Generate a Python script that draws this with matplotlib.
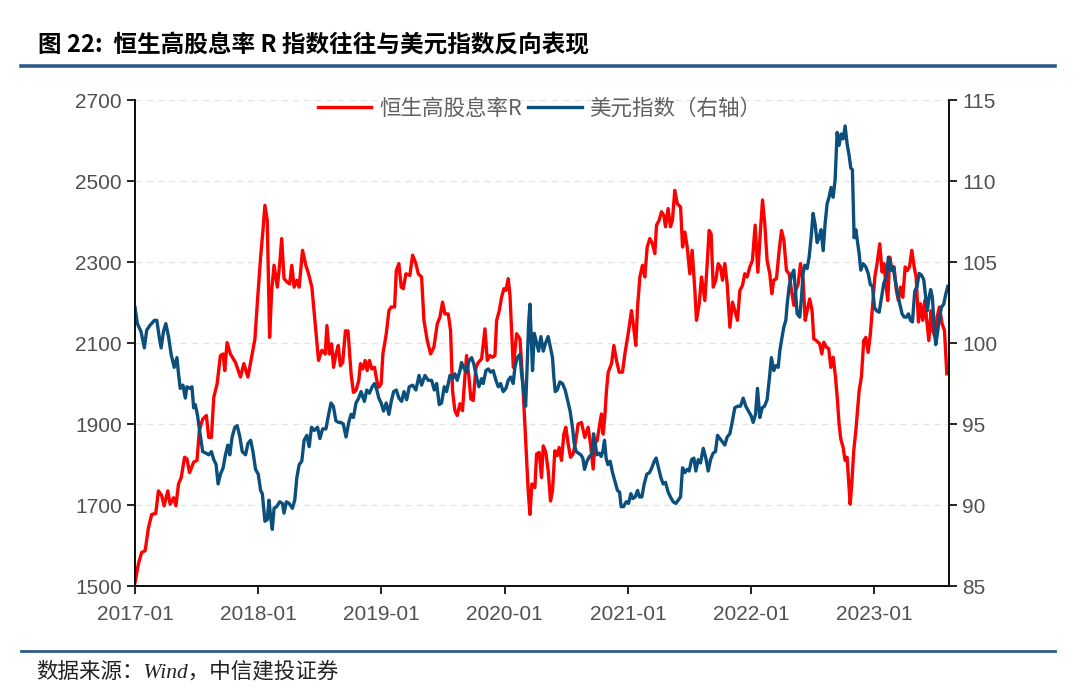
import numpy as np
import pandas as pd
import matplotlib
matplotlib.use('Agg')
import matplotlib.pyplot as plt
import matplotlib.dates as mdates
from matplotlib.lines import Line2D

plt.rcParams['font.family'] = ['Liberation Sans', 'Noto Sans CJK SC', 'DejaVu Sans']
plt.rcParams['axes.unicode_minus'] = False

# 恒生高股息率R 指数（左轴），时间以小数年表示
hsy_year = [
    2017.000, 2017.027, 2017.054, 2017.082, 2017.109, 2017.136, 2017.168, 2017.190, 2017.217, 2017.236,
    2017.266, 2017.285, 2017.313, 2017.332, 2017.353, 2017.375, 2017.402, 2017.421, 2017.443, 2017.476,
    2017.503, 2017.522, 2017.549, 2017.579, 2017.598, 2017.620, 2017.639, 2017.666, 2017.693, 2017.715,
    2017.728, 2017.747, 2017.774, 2017.815, 2017.856, 2017.883, 2017.916, 2017.946, 2017.973, 2017.992,
    2018.019, 2018.038, 2018.054, 2018.073, 2018.092, 2018.109, 2018.128, 2018.155, 2018.174, 2018.190,
    2018.209, 2018.236, 2018.255, 2018.272, 2018.291, 2018.313, 2018.332, 2018.359, 2018.386, 2018.408,
    2018.435, 2018.462, 2018.489, 2018.516, 2018.543, 2018.557, 2018.576, 2018.595, 2018.611, 2018.630,
    2018.649, 2018.666, 2018.685, 2018.707, 2018.728, 2018.753, 2018.772, 2018.793, 2018.815, 2018.829,
    2018.848, 2018.867, 2018.883, 2018.902, 2018.921, 2018.943, 2018.962, 2018.978, 2018.997, 2019.011,
    2019.038, 2019.060, 2019.079, 2019.106, 2019.120, 2019.141, 2019.160, 2019.176, 2019.198, 2019.230,
    2019.252, 2019.279, 2019.298, 2019.325, 2019.344, 2019.371, 2019.398, 2019.425, 2019.452, 2019.474,
    2019.495, 2019.514, 2019.541, 2019.560, 2019.576, 2019.595, 2019.614, 2019.636, 2019.657, 2019.676,
    2019.690, 2019.709, 2019.725, 2019.744, 2019.766, 2019.785, 2019.812, 2019.839, 2019.858, 2019.880,
    2019.901, 2019.920, 2019.934, 2019.955, 2019.974, 2019.993, 2020.009, 2020.028, 2020.042, 2020.069,
    2020.096, 2020.123, 2020.145, 2020.172, 2020.190, 2020.204, 2020.220, 2020.244, 2020.258, 2020.279,
    2020.298, 2020.312, 2020.333, 2020.352, 2020.371, 2020.387, 2020.406, 2020.425, 2020.441, 2020.460,
    2020.479, 2020.495, 2020.514, 2020.533, 2020.554, 2020.576, 2020.595, 2020.622, 2020.649, 2020.676,
    2020.695, 2020.717, 2020.730, 2020.749, 2020.771, 2020.784, 2020.798, 2020.811, 2020.825, 2020.839,
    2020.866, 2020.885, 2020.906, 2020.928, 2020.955, 2020.974, 2021.001, 2021.028, 2021.047, 2021.063,
    2021.077, 2021.096, 2021.117, 2021.136, 2021.155, 2021.177, 2021.198, 2021.217, 2021.231, 2021.252,
    2021.271, 2021.290, 2021.304, 2021.325, 2021.344, 2021.360, 2021.379, 2021.399, 2021.426, 2021.442,
    2021.461, 2021.480, 2021.501, 2021.520, 2021.542, 2021.555, 2021.577, 2021.596, 2021.623, 2021.642,
    2021.658, 2021.674, 2021.691, 2021.712, 2021.731, 2021.750, 2021.766, 2021.785, 2021.804, 2021.826,
    2021.847, 2021.866, 2021.888, 2021.907, 2021.928, 2021.947, 2021.966, 2021.988, 2022.009, 2022.031,
    2022.053, 2022.074, 2022.091, 2022.109, 2022.128, 2022.150, 2022.166, 2022.182, 2022.204, 2022.226,
    2022.245, 2022.264, 2022.285, 2022.307, 2022.326, 2022.345, 2022.361, 2022.380, 2022.399, 2022.420,
    2022.437, 2022.453, 2022.474, 2022.493, 2022.507, 2022.528, 2022.555, 2022.572, 2022.588, 2022.609,
    2022.628, 2022.645, 2022.664, 2022.683, 2022.699, 2022.712, 2022.726, 2022.745, 2022.761, 2022.777,
    2022.791, 2022.802, 2022.815, 2022.831, 2022.848, 2022.861, 2022.875, 2022.893, 2022.912, 2022.929,
    2022.948, 2022.966, 2022.983, 2023.002, 2023.020, 2023.042, 2023.061, 2023.077, 2023.091, 2023.107,
    2023.123, 2023.142, 2023.158, 2023.177, 2023.193, 2023.210, 2023.229, 2023.248, 2023.266, 2023.283,
    2023.302, 2023.321, 2023.337, 2023.356, 2023.372, 2023.391, 2023.407, 2023.423, 2023.440, 2023.459,
    2023.472, 2023.491, 2023.507, 2023.526, 2023.548, 2023.567, 2023.586,
]
hsy_val = [
    1508, 1554, 1583, 1587, 1644, 1677, 1679, 1735, 1723, 1698,
    1735, 1702, 1718, 1698, 1752, 1768, 1818, 1814, 1780, 1806,
    1810, 1884, 1912, 1921, 1867, 1867, 1966, 1999, 2069, 2073,
    2032, 2101, 2073, 2052, 2016, 2049, 2016, 2065, 2110, 2197,
    2312, 2378, 2440, 2403, 2114, 2230, 2292, 2238, 2296, 2358,
    2259, 2250, 2246, 2292, 2238, 2255, 2238, 2329, 2292, 2271,
    2238, 2147, 2057, 2082, 2073, 2143, 2073, 2098, 2040, 2073,
    2094, 2044, 2052, 2130, 2130, 2024, 1978, 1983, 2007, 2049,
    2036, 2057, 2032, 2057, 2036, 2040, 2007, 1991, 1999, 2073,
    2122, 2180, 2189, 2189, 2279, 2296, 2238, 2234, 2271, 2267,
    2317, 2296, 2271, 2263, 2156, 2106, 2073, 2090, 2147, 2164,
    2201, 2172, 2172, 2131, 1983, 1933, 1921, 1950, 1933, 2016,
    2069, 2016, 1962, 1958, 2040, 2052, 2061, 2135, 2057, 2069,
    2065, 2069, 2156, 2180, 2213, 2234, 2230, 2259, 2218, 2040,
    2123, 2110, 2007, 1842, 1735, 1677, 1752, 1743, 1826, 1830,
    1768, 1846, 1830, 1785, 1710, 1735, 1834, 1822, 1842, 1810,
    1875, 1892, 1851, 1818, 1826, 1859, 1900, 1904, 1867, 1892,
    1851, 1789, 1851, 1859, 1900, 1925, 1875, 1917, 1983, 2028,
    2049, 2094, 2057, 2028, 2028, 2073, 2123, 2180, 2135, 2094,
    2189, 2263, 2292, 2263, 2337, 2358, 2345, 2321, 2391, 2403,
    2424, 2415, 2387, 2432, 2387, 2403, 2477, 2444, 2436, 2337,
    2374, 2337, 2271, 2329, 2230, 2156, 2197, 2263, 2205, 2296,
    2378, 2370, 2238, 2255, 2296, 2288, 2255, 2296, 2246, 2139,
    2201, 2180, 2156, 2230, 2242, 2271, 2263, 2288, 2304, 2391,
    2275, 2378, 2453, 2395, 2304, 2271, 2222, 2255, 2259, 2329,
    2378, 2354, 2279, 2271, 2230, 2193, 2230, 2246, 2296, 2255,
    2156, 2180, 2209, 2180, 2110, 2106, 2098, 2073, 2102, 2090,
    2086, 2040, 2065, 2016, 1958, 1900, 1863, 1842, 1810, 1818,
    1752, 1702, 1752, 1834, 1884, 1933, 1983, 2016, 2106, 2114,
    2077, 2123, 2189, 2263, 2296, 2345, 2275, 2296, 2246, 2205,
    2312, 2279, 2288, 2230, 2205, 2238, 2213, 2288, 2279, 2288,
    2329, 2288, 2263, 2152, 2197, 2156, 2205, 2156, 2106, 2180,
    2131, 2114, 2164, 2189, 2147, 2131, 2024,
]

# 美元指数（右轴）
usd_year = [
    2017.000, 2017.019, 2017.049, 2017.076, 2017.095, 2017.122, 2017.158, 2017.177, 2017.196, 2017.212,
    2017.231, 2017.250, 2017.272, 2017.293, 2017.318, 2017.340, 2017.353, 2017.367, 2017.389, 2017.408,
    2017.421, 2017.443, 2017.462, 2017.476, 2017.489, 2017.508, 2017.524, 2017.549, 2017.576, 2017.598,
    2017.620, 2017.639, 2017.658, 2017.674, 2017.693, 2017.715, 2017.734, 2017.753, 2017.769, 2017.788,
    2017.810, 2017.829, 2017.851, 2017.870, 2017.897, 2017.916, 2017.938, 2017.957, 2017.978, 2018.000,
    2018.019, 2018.033, 2018.054, 2018.073, 2018.087, 2018.101, 2018.114, 2018.128, 2018.149, 2018.174,
    2018.196, 2018.209, 2018.228, 2018.250, 2018.277, 2018.296, 2018.313, 2018.332, 2018.353, 2018.372,
    2018.394, 2018.413, 2018.432, 2018.454, 2018.481, 2018.500, 2018.522, 2018.549, 2018.571, 2018.590,
    2018.609, 2018.630, 2018.652, 2018.671, 2018.690, 2018.712, 2018.734, 2018.753, 2018.772, 2018.793,
    2018.815, 2018.834, 2018.861, 2018.880, 2018.902, 2018.924, 2018.943, 2018.962, 2018.978, 2018.997,
    2019.016, 2019.038, 2019.060, 2019.079, 2019.098, 2019.120, 2019.141, 2019.163, 2019.182, 2019.204,
    2019.225, 2019.252, 2019.279, 2019.304, 2019.325, 2019.352, 2019.379, 2019.406, 2019.428, 2019.447,
    2019.468, 2019.487, 2019.509, 2019.528, 2019.555, 2019.576, 2019.595, 2019.614, 2019.636, 2019.649,
    2019.671, 2019.690, 2019.709, 2019.731, 2019.749, 2019.771, 2019.790, 2019.812, 2019.825, 2019.847,
    2019.866, 2019.885, 2019.906, 2019.928, 2019.947, 2019.966, 2019.987, 2020.009, 2020.028, 2020.047,
    2020.068, 2020.082, 2020.101, 2020.123, 2020.136, 2020.155, 2020.169, 2020.182, 2020.193, 2020.204,
    2020.215, 2020.225, 2020.239, 2020.258, 2020.274, 2020.293, 2020.312, 2020.331, 2020.352, 2020.371,
    2020.387, 2020.398, 2020.409, 2020.425, 2020.447, 2020.468, 2020.490, 2020.512, 2020.530, 2020.549,
    2020.563, 2020.579, 2020.598, 2020.617, 2020.633, 2020.647, 2020.666, 2020.687, 2020.706, 2020.720,
    2020.733, 2020.747, 2020.766, 2020.782, 2020.795, 2020.809, 2020.822, 2020.836, 2020.855, 2020.874,
    2020.896, 2020.914, 2020.931, 2020.944, 2020.963, 2020.985, 2021.004, 2021.023, 2021.039, 2021.058,
    2021.077, 2021.093, 2021.112, 2021.131, 2021.152, 2021.174, 2021.193, 2021.212, 2021.228, 2021.247,
    2021.266, 2021.285, 2021.304, 2021.325, 2021.344, 2021.366, 2021.388, 2021.407, 2021.426, 2021.442,
    2021.461, 2021.480, 2021.496, 2021.515, 2021.534, 2021.550, 2021.569, 2021.588, 2021.610, 2021.631,
    2021.650, 2021.669, 2021.690, 2021.709, 2021.726, 2021.745, 2021.766, 2021.785, 2021.804, 2021.826,
    2021.847, 2021.866, 2021.888, 2021.912, 2021.934, 2021.955, 2021.977, 2021.999, 2022.015, 2022.034,
    2022.050, 2022.069, 2022.088, 2022.107, 2022.128, 2022.145, 2022.163, 2022.182, 2022.199, 2022.218,
    2022.231, 2022.248, 2022.264, 2022.280, 2022.291, 2022.307, 2022.326, 2022.345, 2022.358, 2022.372,
    2022.393, 2022.407, 2022.420, 2022.434, 2022.453, 2022.469, 2022.485, 2022.501, 2022.518, 2022.534,
    2022.550, 2022.566, 2022.583, 2022.599, 2022.615, 2022.631, 2022.647, 2022.664, 2022.680, 2022.696,
    2022.712, 2022.728, 2022.745, 2022.761, 2022.777, 2022.793, 2022.807, 2022.820, 2022.834, 2022.848,
    2022.861, 2022.875, 2022.888, 2022.907, 2022.929, 2022.948, 2022.966, 2022.983, 2022.999, 2023.015,
    2023.037, 2023.056, 2023.075, 2023.096, 2023.112, 2023.131, 2023.150, 2023.169, 2023.188, 2023.205,
    2023.223, 2023.240, 2023.258, 2023.275, 2023.291, 2023.307, 2023.326, 2023.345, 2023.361, 2023.380,
    2023.399, 2023.415, 2023.428, 2023.442, 2023.455, 2023.469, 2023.482, 2023.496, 2023.510, 2023.523,
    2023.542, 2023.561, 2023.577, 2023.594,
]
usd_val = [
    102.2, 101.2, 100.7, 99.7, 100.8, 101.1, 101.4, 101.4, 100.4, 99.7,
    100.7, 101.2, 100.4, 99.3, 98.5, 99.1, 98.1, 97.2, 97.4, 96.6,
    97.3, 97.2, 97.3, 96.0, 96.2, 95.5, 94.6, 93.3, 93.2, 93.1,
    93.3, 92.8, 92.5, 91.3, 91.9, 92.3, 93.1, 93.7, 93.1, 94.2,
    94.8, 94.9, 94.2, 93.3, 93.1, 93.8, 94.0, 93.3, 92.2, 91.9,
    90.9, 90.7, 89.0, 89.1, 90.3, 89.2, 88.5, 89.8, 89.9, 90.2,
    90.1, 89.5, 90.2, 90.1, 89.8, 90.3, 91.7, 92.5, 92.7, 94.0,
    94.3, 93.6, 94.8, 94.6, 94.8, 94.1, 94.7, 94.7, 95.6, 96.3,
    96.1, 95.2, 95.1, 95.1, 95.0, 94.2, 95.1, 95.6, 95.4, 96.3,
    96.6, 97.0, 96.4, 97.1, 96.9, 97.3, 97.5, 97.1, 96.6, 96.3,
    95.8, 96.3, 95.6, 96.4, 97.0, 97.1, 96.6, 96.4, 97.0, 96.5,
    97.3, 97.4, 97.1, 98.0, 97.4, 98.0, 97.7, 97.7, 97.1, 97.5,
    96.2, 96.3, 97.3, 97.0, 98.0, 97.8, 98.1, 97.7, 98.3, 98.8,
    98.4, 98.2, 98.9, 99.1, 98.7, 97.9, 97.3, 97.8, 97.5, 98.3,
    98.4, 98.2, 98.3, 97.7, 97.3, 97.5, 97.0, 97.2, 97.7, 97.9,
    97.5, 98.5, 99.1, 99.3, 98.1, 96.9, 96.1, 98.7, 101.2, 102.4,
    100.2, 98.3, 100.6, 100.0, 99.5, 100.4, 99.5, 100.0, 100.4, 99.7,
    99.1, 97.9, 97.0, 97.1, 97.6, 97.5, 97.1, 96.4, 95.8, 94.8,
    93.8, 93.3, 93.2, 93.1, 92.9, 92.2, 92.7, 93.0, 93.1, 94.4,
    93.8, 93.1, 93.2, 93.0, 93.3, 94.0, 92.9, 92.5, 92.7, 92.0,
    91.4, 90.9, 90.8, 89.9, 89.9, 90.2, 90.1, 90.7, 90.4, 90.5,
    90.9, 90.5, 90.5, 91.3, 91.9, 92.0, 92.3, 92.7, 92.9, 92.3,
    91.7, 91.3, 91.4, 90.8, 90.5, 90.2, 90.1, 90.3, 90.5, 92.3,
    92.0, 92.2, 92.1, 92.8, 92.9, 92.1, 92.8, 92.6, 93.5, 92.9,
    92.1, 92.8, 93.2, 93.3, 94.3, 94.1, 93.9, 93.7, 94.2, 94.4,
    95.2, 96.0, 96.1, 96.1, 96.6, 96.1, 95.8, 95.5, 95.1, 95.6,
    97.2, 95.4, 96.0, 96.1, 96.5, 97.7, 99.1, 98.3, 98.6, 98.5,
    99.5, 100.3, 101.0, 101.4, 102.4, 103.5, 104.2, 104.5, 103.2, 101.8,
    101.6, 102.8, 104.3, 104.8, 104.6, 105.3, 106.5, 108.0, 107.3, 106.2,
    106.5, 107.0, 105.7, 107.4, 108.6, 109.0, 109.6, 109.0, 110.1, 113.0,
    112.2, 112.9, 112.6, 113.4, 112.3, 111.6, 110.8, 110.7, 106.5, 107.0,
    106.3, 105.5, 104.5, 104.9, 104.7, 104.3, 103.6, 103.5, 102.2, 102.0,
    101.9, 102.8, 103.7, 104.1, 105.3, 104.5, 104.7, 103.8, 103.0, 102.4,
    101.8, 101.6, 101.6, 101.8, 101.4, 101.3, 103.2, 103.5, 104.3, 104.2,
    103.9, 102.8, 102.0, 102.8, 103.3, 102.8, 101.2, 99.9, 100.6, 101.4,
    102.2, 102.4, 103.0, 103.5,
]

left_ticks = [1500, 1700, 1900, 2100, 2300, 2500, 2700]
right_ticks = [85, 90, 95, 100, 105, 110, 115]
x_ticks = ['2017-01', '2018-01', '2019-01', '2020-01', '2021-01', '2022-01', '2023-01']


def to_dates(years):
    years = np.asarray(years, dtype=float)
    return pd.Timestamp('2017-01-01') + pd.to_timedelta((years - 2017) * 365.25, unit='D')


RED = '#ff0000'
BLUE = '#0b4f7c'
NAVY = '#2e5a88'
GREY = '#505050'
CJK = ['Noto Sans CJK SC', 'DejaVu Sans']

fig = plt.figure(figsize=(10.8, 6.97), dpi=100)
ax = fig.add_axes([0.125, 0.1592, 0.7537, 0.6973])
ax2 = ax.twinx()

ax.plot(to_dates(hsy_year), hsy_val, color=RED, lw=2.4, label='恒生高股息率R')
ax2.plot(to_dates(usd_year), usd_val, color=BLUE, lw=2.4, label='美元指数（右轴）')

ax.set_ylim(1500, 2700)
ax.set_yticks(left_ticks)
ax2.set_ylim(85, 115)
ax2.set_yticks(right_ticks)
ax.set_xlim(pd.Timestamp('2017-01-01'), pd.Timestamp('2023-08-10'))
ax.set_xticks(pd.to_datetime([t + '-01' for t in x_ticks]))
ax.xaxis.set_major_formatter(mdates.DateFormatter('%Y-%m'))

ax.grid(axis='y', color='#e3e3e3', linestyle=(0, (5, 4)), lw=0.9)
ax.set_axisbelow(True)

for a in (ax, ax2):
    a.spines['top'].set_visible(False)
    for s in ('left', 'right', 'bottom'):
        a.spines[s].set_linewidth(1.4)
        a.spines[s].set_color('#111111')
    a.tick_params(direction='out', length=5.5, width=1.3, labelsize=15,
                  labelcolor=GREY, color='#111111')
ax.tick_params(axis='x', pad=8)
ax.tick_params(axis='y', pad=4)
ax2.tick_params(axis='y', pad=4)

h1, l1 = ax.get_legend_handles_labels()
h2, l2 = ax2.get_legend_handles_labels()
leg = ax2.legend(h1 + h2, l1 + l2, loc='upper center', bbox_to_anchor=(0.497, 1.044),
                 ncol=2, frameon=False, handlelength=2.5, handletextpad=0.35,
                 columnspacing=0.3, prop={'family': CJK, 'size': 15.5})
for t in leg.get_texts():
    t.set_color('#606060')

# 标题与页眉/页脚分隔线
fig.text(0.035, 0.935, '图 22:  恒生高股息率 R 指数往往与美元指数反向表现', fontsize=17,
         fontweight='bold', family=CJK, va='center', ha='left')
fig.add_artist(Line2D([0.019, 0.977], [0.905, 0.905], color=NAVY, lw=2.6))
fig.add_artist(Line2D([0.019, 0.977], [0.066, 0.066], color=NAVY, lw=2.0))
fig.text(0.033, 0.035, '数据来源：Wind，中信建投证券', fontsize=15.5, style='italic',
         family=['Liberation Serif', 'Noto Sans CJK SC', 'DejaVu Sans'],
         va='center', ha='left', color='#222222')

fig.savefig('out.png', dpi=100)
